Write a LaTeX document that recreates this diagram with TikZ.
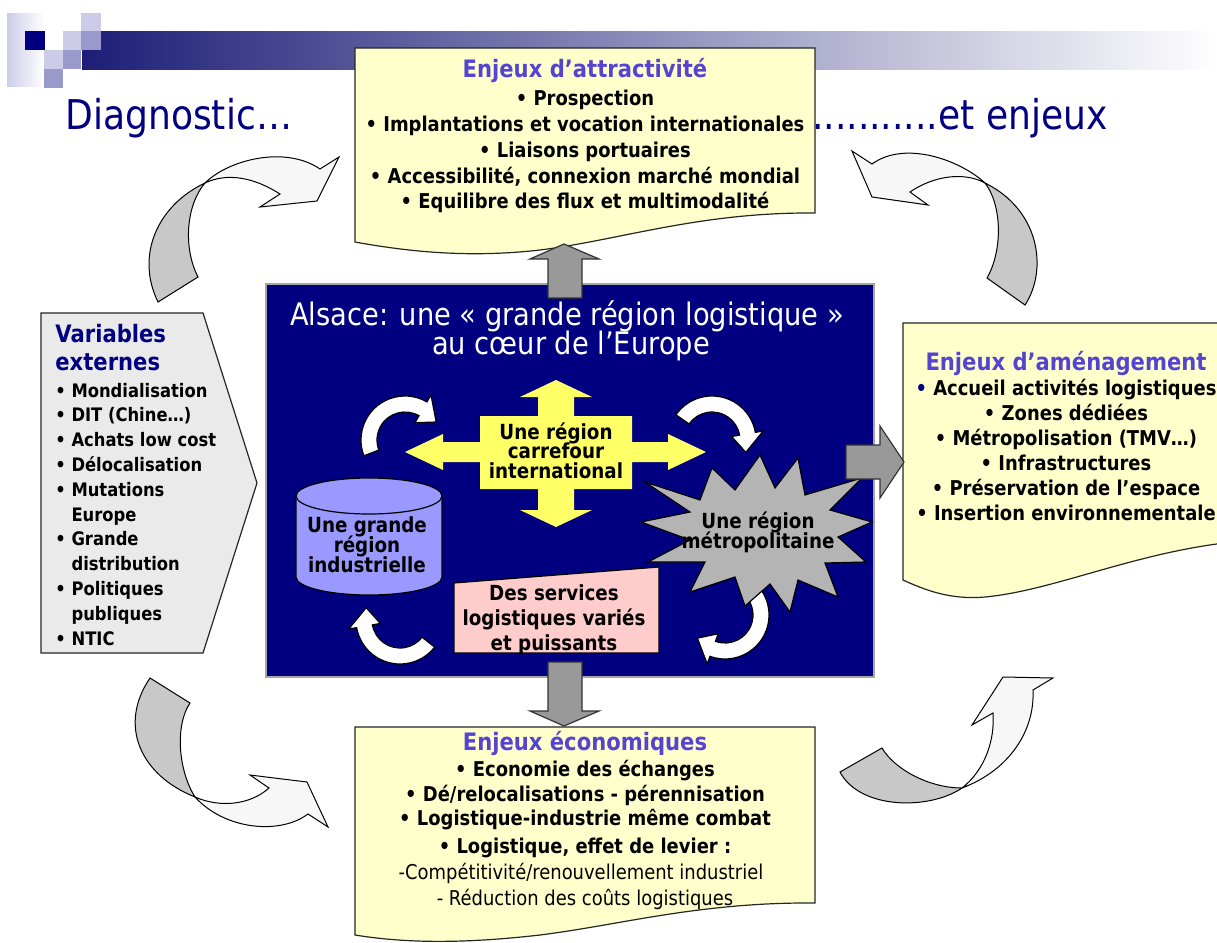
\documentclass[tikz,border=0pt]{standalone}
\usepackage{fontspec}
\setmainfont[FakeStretch=0.88]{DejaVu Sans}
\usepackage{xcolor}
\definecolor{alsnavy}{RGB}{0,0,128}
\definecolor{alsbar}{RGB}{30,30,120}
\definecolor{alssq}{RGB}{204,204,232}
\definecolor{alssqm}{RGB}{153,153,204}
\definecolor{alstitle}{RGB}{85,68,210}
\definecolor{alspaper}{RGB}{255,255,204}
\definecolor{alslight}{RGB}{234,234,234}
\definecolor{alsgrey}{RGB}{153,153,153}
\definecolor{alscross}{RGB}{255,255,102}
\definecolor{alscyl}{RGB}{153,153,255}
\definecolor{alspink}{RGB}{255,204,204}
\definecolor{alsstar}{RGB}{180,180,180}
\definecolor{alsband}{RGB}{200,200,200}
\definecolor{alsbandw}{RGB}{247,247,247}

% fleche circulaire blanche : centre x, centre y, angle depart, angle fin
\newcommand{\circarr}[4]{%
  \begin{scope}[shift={(#1,#2)}]
    \filldraw[fill=white, draw=black, line width=0.6pt]
      (#3:44) arc[start angle=#3, end angle=#4, radius=44]
      -- (#4:52) -- ({#4+30}:36) -- (#4:20) -- (#4:28)
      arc[start angle=#4, end angle=#3, radius=28] -- cycle;
  \end{scope}}

\begin{document}
\begin{tikzpicture}[x=0.5pt, y=-0.5pt,
  bodytxt/.style={anchor=base, inner sep=0pt, font=\fontsize{10.2}{12}\selectfont\bfseries},
  regtxt/.style={anchor=base, inner sep=0pt, font=\fontsize{10.2}{12}\selectfont},
  headtxt/.style={anchor=base, inner sep=0pt, text=alstitle, font=\fontsize{12}{14}\selectfont\bfseries},
  lefttxt/.style={anchor=base west, inner sep=0pt, font=\fontsize{9.3}{11}\selectfont\bfseries},
  shapetxt/.style={anchor=base, inner sep=0pt, font=\fontsize{10.4}{12}\selectfont\bfseries},
  bigtxt/.style={inner sep=0pt, text=alsnavy, font=\fontsize{20.5}{24}\selectfont},
  paper/.style={fill=alspaper, draw=black!85, line width=0.6pt},
  blockarr/.style={fill=alsgrey, draw=black!80, line width=0.6pt},
  bandback/.style={fill=alsband, draw=black, line width=0.5pt},
  bandfront/.style={fill=alsbandw, draw=black, line width=0.5pt}]

\clip (0,0) rectangle (1217,943);
\fill[white] (0,0) rectangle (1217,943);

% === Bandeau ===
\shade[left color=alsbar, middle color=alsbar!35, right color=white] (82,31) rectangle (1217,69);
\shade[left color=alssq, right color=white] (7,13) rectangle (44,86);
\fill[alsnavy] (25,31) rectangle (45,50);
\fill[alssq] (81,13) rectangle (101,31);
\fill[alssq] (63,31) rectangle (81,50);
\fill[alssqm] (81,31) rectangle (101,50);
\fill[alssq] (44,50) rectangle (63,69);
\fill[alssqm] (63,50) rectangle (81,69);
\fill[alssqm] (44,69) rectangle (63,88);

\node[bigtxt, anchor=base west] (diag) at (65,129) {Diagnostic…};
\node[bigtxt, anchor=base east] (enjeux) at (1108,129) {...........et enjeux};

% === Fleches rubans (coins) ===
% haut gauche
\filldraw[bandback] (158,302) -- (198,277) .. controls (183,248) and (186,205) .. (205,183)
  .. controls (158,205) and (135,255) .. (158,302) -- cycle;
\filldraw[bandfront] (205,183) .. controls (228,160) and (285,145) .. (320,169) -- (339,157)
  -- (317,201) -- (260,207) -- (280,194) .. controls (255,178) and (228,172) .. (205,183) -- cycle;
% haut droite
\filldraw[bandback] (1025,305) -- (987,278) .. controls (1003,250) and (1002,205) .. (985,183)
  .. controls (1040,210) and (1048,270) .. (1025,305) -- cycle;
\filldraw[bandfront] (985,183) .. controls (960,160) and (905,140) .. (872,164) -- (852,151)
  -- (872,197) -- (928,205) -- (910,192) .. controls (935,175) and (965,172) .. (985,183) -- cycle;
% bas gauche
\filldraw[bandback] (150,678) -- (190,703) .. controls (175,725) and (178,770) .. (195,797)
  .. controls (140,775) and (118,725) .. (150,678) -- cycle;
\filldraw[bandfront] (195,797) .. controls (225,830) and (280,835) .. (308,814) -- (328,827)
  -- (307,782) -- (250,775) -- (269,788) .. controls (250,805) and (220,808) .. (195,797) -- cycle;
% bas droite
\filldraw[bandback] (840,772) -- (882,748) .. controls (895,770) and (930,788) .. (962,788)
  .. controls (930,810) and (860,810) .. (840,772) -- cycle;
\filldraw[bandfront] (962,788) .. controls (985,770) and (995,740) .. (993,713) -- (972,725)
  -- (1003,677) -- (1053,678) -- (1033,690) .. controls (1035,730) and (1010,770) .. (962,788) -- cycle;

% === Enjeux d'attractivite ===
\filldraw[paper] (355,48) -- (815,48) -- (815,213) .. controls (700,212) and (620,240) .. (540,250)
  .. controls (470,258) and (410,252) .. (355,242) -- cycle;
\node[headtxt] (attr) at (585,77) {Enjeux d’attractivité};
\foreach \y/\txt in {105/{• Prospection}, 131/{• Implantations et vocation internationales},
    157/{• Liaisons portuaires}, 183/{• Accessibilité, connexion marché mondial},
    208/{• Equilibre des flux et multimodalité}}
  \node[bodytxt] (attr-\y) at (585,\y) {\txt};

% === Enjeux d'amenagement ===
\filldraw[paper] (903,323) -- (1260,323) -- (1260,540) .. controls (1150,545) and (1060,590) .. (985,597)
  .. controls (950,600) and (925,590) .. (903,580) -- cycle;
\node[headtxt] (amen) at (1066,370) {Enjeux d’aménagement};
\foreach \y/\txt in {395/{{\color{alsnavy}•} Accueil activités logistiques}, 420/{• Zones dédiées},
    445/{• Métropolisation (TMV…)}, 470/{• Infrastructures},
    495/{• Préservation de l’espace}, 520/{• Insertion environnementale}}
  \node[bodytxt] (amen-\y) at (1066,\y) {\txt};

% === Enjeux economiques ===
\filldraw[paper] (355,727) -- (815,727) -- (815,903) .. controls (700,902) and (620,925) .. (540,935)
  .. controls (470,943) and (410,944) .. (355,935) -- cycle;
\node[headtxt] (eco) at (585,750) {Enjeux économiques};
\foreach \y/\txt in {776/{• Economie des échanges}, 801/{• Dé/relocalisations - pérennisation},
    825/{• Logistique-industrie même combat}, 853/{• Logistique, effet de levier :}}
  \node[bodytxt] (eco-\y) at (585,\y) {\txt};
\node[regtxt] (eco-879) at (581,879) {-Compétitivité/renouvellement industriel};
\node[regtxt] (eco-905) at (585,905) {- Réduction des coûts logistiques};

% === Variables externes ===
\filldraw[fill=alslight, draw=black!85, line width=0.6pt]
  (41,313) -- (203,313) -- (257,483) -- (203,653) -- (41,653) -- cycle;
\node[lefttxt, text=alsnavy, font=\fontsize{12}{14}\selectfont\bfseries] (var1) at (55,342) {Variables};
\node[lefttxt, text=alsnavy, font=\fontsize{12}{14}\selectfont\bfseries] (var2) at (55,370) {externes};
\foreach \txt [count=\i] in {• Mondialisation, • DIT (Chine…), • Achats low cost, • Délocalisation,
    • Mutations, \hphantom{•} Europe, • Grande, \hphantom{•} distribution, • Politiques,
    \hphantom{•} publiques, • NTIC}
  \node[lefttxt] (var-\i) at (55,{397+24.8*(\i-1)}) {\txt};

% === Alsace (cadre central) ===
\filldraw[fill=alsnavy, draw=gray!70, line width=0.6pt] (266,284) rectangle (874,677);
\node[inner sep=0pt, anchor=base, text=white, font=\fontsize{15.5}{18}\selectfont] (als1) at (567,325)
  {Alsace: une « grande région logistique »};
\node[inner sep=0pt, anchor=base, text=white, font=\fontsize{15.5}{18}\selectfont] (als2) at (571,354)
  {au cœur de l’Europe};

% fleches circulaires
\circarr{405}{440}{159}{300}
\circarr{712}{440}{215}{350}
\circarr{725}{615}{321}{470}
\circarr{400}{620}{38}{170}

% carrefour (fleche a quatre branches)
\fill[alscross] (556,380) -- (592,397) -- (574,397) -- (574,416) -- (632,416) -- (632,442)
  -- (668,442) -- (668,434) -- (706,452) -- (668,470) -- (668,462) -- (632,462) -- (632,489)
  -- (574,489) -- (574,510) -- (592,510) -- (556,527) -- (520,510) -- (538,510) -- (538,489)
  -- (480,489) -- (480,462) -- (443,462) -- (443,470) -- (405,452) -- (443,434) -- (443,442)
  -- (480,442) -- (480,416) -- (538,416) -- (538,397) -- (520,397) -- cycle;
\foreach \y/\txt in {439/Une région, 458/carrefour, 478/international}
  \node[shapetxt] (cross-\y) at (556,\y) {\txt};

% cylindre
\filldraw[fill=alscyl, draw=black, line width=0.6pt] (296,496) -- (296,577)
  arc[start angle=180, end angle=0, x radius=73, y radius=18] -- (442,496)
  arc[start angle=0, end angle=-180, x radius=73, y radius=18] -- cycle;
\draw[line width=0.6pt] (296,496) arc[start angle=180, end angle=0, x radius=73, y radius=18];
\foreach \y/\txt in {532/Une grande, 552/région, 572/industrielle}
  \node[shapetxt] (cyl-\y) at (367,\y) {\txt};

% etoile
\filldraw[fill=alsstar, draw=black, line width=0.6pt] (645,482) -- (700,500) -- (712,468)
  -- (735,490) -- (760,455) -- (775,488) -- (798,458) -- (805,495) -- (862,478) -- (830,510)
  -- (872,522) -- (838,537) -- (866,562) -- (825,563) -- (838,597) -- (798,580) -- (790,612)
  -- (770,584) -- (745,606) -- (735,577) -- (690,592) -- (705,562) -- (648,562) -- (690,540)
  -- (641,522) -- (690,512) -- cycle;
\foreach \y/\txt in {528/Une région, 548/métropolitaine}
  \node[shapetxt] (star-\y) at (758,\y) {\txt};

% services logistiques
\filldraw[fill=alspink, draw=black, line width=0.6pt] (454,583) -- (659,567) -- (659,653) -- (454,653) -- cycle;
\foreach \y/\txt in {600/Des services, 625/logistiques variés, 650/et puissants}
  \node[shapetxt] (serv-\y) at (554,\y) {\txt};

% === Fleches grises ===
\filldraw[blockarr] (548,298) -- (548,259) -- (530,259) -- (564,244) -- (599,259) -- (582,259) -- (582,298) -- cycle;
\filldraw[blockarr] (548,662) -- (548,711) -- (530,711) -- (564,726) -- (599,711) -- (582,711) -- (582,662) -- cycle;
\filldraw[blockarr] (846,445) -- (880,445) -- (880,426) -- (904,462) -- (880,498) -- (880,479) -- (846,479) -- cycle;

\end{tikzpicture}
\end{document}
